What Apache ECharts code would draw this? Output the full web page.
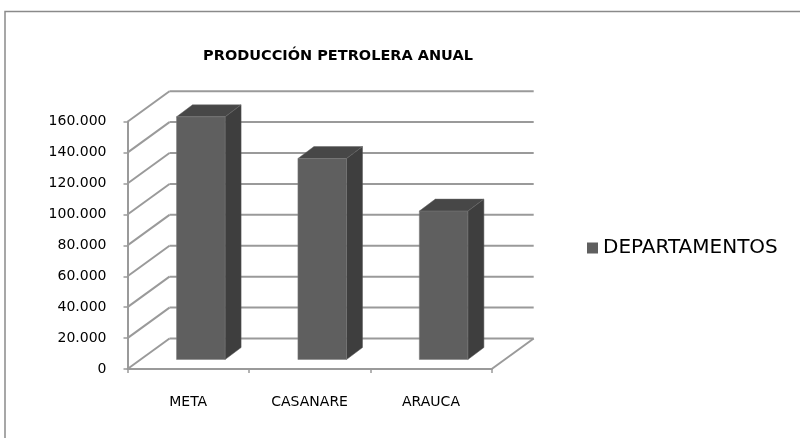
<!DOCTYPE html>
<html>
<head>
<meta charset="utf-8">
<script src="https://cdn.jsdelivr.net/npm/echarts@6/dist/echarts.min.js"></script>
<style>
  html, body { margin: 0; padding: 0; background: #fff; }
  #chart { width: 800px; height: 438px; }
</style>
</head>
<body>
<div id="chart"></div>
<script>
var categories = ["META", "CASANARE", "ARAUCA"];
var produccion = [157000, 130000, 96000];
var yTicks = [0, 20000, 40000, 60000, 80000, 100000, 120000, 140000, 160000];
var seriesName = "DEPARTAMENTOS";

// profundidad del efecto 3D (pixeles)
var DX = 42, DY = -30.5;

function miles(v) {
  return String(v).replace(/\B(?=(\d{3})+(?!\d))/g, ".");
}

var chart = echarts.init(document.getElementById("chart"));
chart.setOption({
  animation: false,
  title: {
    text: "PRODUCCIÓN PETROLERA ANUAL",
    left: 333,
    top: 44,
    textAlign: "center",
    textStyle: {
      fontFamily: "DejaVu Sans",
      fontWeight: "bold",
      fontSize: 14.5,
      color: "#000"
    }
  },
  graphic: [
    {
      type: "rect",
      shape: { x: 5, y: 11.5, width: 820, height: 450 },
      style: { fill: "none", stroke: "#8a8a8a", lineWidth: 1.5 },
      silent: true
    }
  ],
  legend: {
    data: [seriesName],
    left: 587,
    top: 238,
    padding: 0,
    icon: "rect",
    itemWidth: 11,
    itemHeight: 11,
    itemGap: 5,
    textStyle: {
      fontFamily: "DejaVu Sans",
      fontSize: 20,
      color: "#000"
    }
  },
  grid: {
    left: 127.5,
    right: 308.3,
    top: 121.7,
    bottom: 69
  },
  xAxis: {
    type: "category",
    data: categories,
    boundaryGap: true,
    axisLine: { lineStyle: { color: "#9a9a9a", width: 2 } },
    axisTick: { show: true, length: 4, lineStyle: { color: "#9a9a9a", width: 1.5 } },
    axisLabel: {
      fontFamily: "DejaVu Sans",
      fontSize: 14,
      color: "#000",
      margin: 26,
      interval: 0
    },
    splitLine: { show: false }
  },
  yAxis: {
    type: "value",
    min: 0,
    max: 160000,
    interval: 20000,
    axisLine: { show: true, lineStyle: { color: "#9a9a9a", width: 2 } },
    axisTick: { show: true, length: 4, lineStyle: { color: "#9a9a9a", width: 1.5 } },
    axisLabel: {
      fontFamily: "DejaVu Sans",
      fontSize: 14,
      color: "#000",
      margin: 21,
      formatter: function (v) { return miles(v); }
    },
    splitLine: { show: false }
  },
  series: [
    {
      // paredes y piso del grafico 3D
      type: "custom",
      silent: true,
      z: 1,
      data: yTicks.map(function (v) { return [0, v]; }),
      renderItem: function (params, api) {
        var cs = params.coordSys;
        var y = api.coord([0, api.value(1)])[1];
        var ls = { stroke: "#9a9a9a", lineWidth: 2 };
        var children = [
          { type: "line", shape: { x1: cs.x, y1: y, x2: cs.x + DX, y2: y + DY }, style: ls },
          { type: "line", shape: { x1: cs.x + DX, y1: y + DY, x2: cs.x + cs.width + DX, y2: y + DY }, style: ls }
        ];
        if (api.value(1) === 0) {
          children.push({
            type: "line",
            shape: { x1: cs.x + cs.width, y1: y, x2: cs.x + cs.width + DX, y2: y + DY },
            style: ls
          });
        }
        return { type: "group", children: children };
      }
    },
    {
      name: seriesName,
      type: "custom",
      z: 3,
      itemStyle: { color: "#5f5f5f" },
      data: produccion.map(function (v, i) { return [i, v]; }),
      renderItem: function (params, api) {
        var idx = api.value(0), v = api.value(1);
        var top = api.coord([idx, v]);
        var base = api.coord([idx, 0]);
        var w = api.size([1, 0])[0] * 0.4;
        var ox = 12.6, oy = -9.5, dx = 16, dy = -12;
        var x0 = top[0] - w / 2 + ox, x1 = x0 + w;
        var yt = top[1] + oy, yb = base[1] + oy;
        return {
          type: "group",
          children: [
            {
              type: "polygon",
              shape: { points: [[x1, yb], [x1, yt], [x1 + dx, yt + dy], [x1 + dx, yb + dy]] },
              style: { fill: "#3e3e3e", stroke: "#555", lineWidth: 0.5 }
            },
            {
              type: "polygon",
              shape: { points: [[x0, yt], [x1, yt], [x1 + dx, yt + dy], [x0 + dx, yt + dy]] },
              style: { fill: "#474747", stroke: "#666", lineWidth: 0.5 }
            },
            {
              type: "rect",
              shape: { x: x0, y: yt, width: w, height: yb - yt },
              style: { fill: "#5f5f5f", stroke: "#7a7a7a", lineWidth: 0.5 }
            }
          ]
        };
      }
    }
  ]
});
</script>
</body>
</html>
